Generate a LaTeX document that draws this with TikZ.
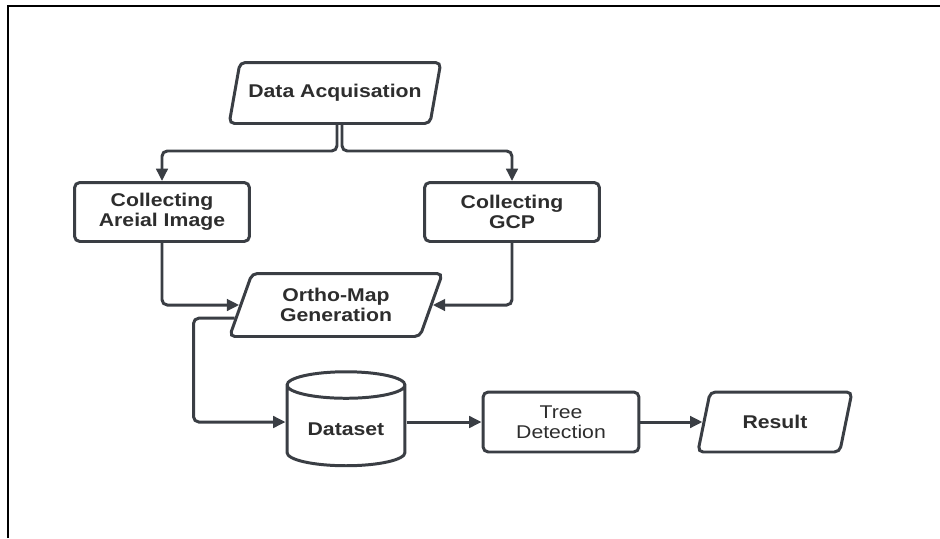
\documentclass[tikz,border=0pt]{standalone}
\usepackage{fontspec}
\setmainfont{Liberation Sans}[FakeStretch=1.15]
\usetikzlibrary{shapes.geometric, arrows.meta, positioning, calc}
\definecolor{flowLine}{RGB}{58, 62, 68}
\definecolor{flowText}{RGB}{45, 45, 45}

\begin{document}
\begin{tikzpicture}[
        x=0.02cm, y=-0.02cm,
        box/.style={rectangle, rounded corners=3pt, draw=flowLine, line width=1.7pt, fill=white, minimum width=3.5cm, minimum height=1.18cm, align=center, font=\fontsize{10.5}{11.5}\selectfont\bfseries, text=flowText},
        io/.style={trapezium, trapezium left angle=70, trapezium right angle=110, trapezium stretches=true, rounded corners=3pt, draw=flowLine, line width=1.7pt, fill=white, align=center, font=\fontsize{10.5}{11.5}\selectfont\bfseries, text=flowText},
        store/.style={cylinder, shape border rotate=90, aspect=0.3, draw=flowLine, line width=1.7pt, fill=white, minimum width=2.36cm, minimum height=1.88cm, font=\fontsize{10.5}{11.5}\selectfont\bfseries, text=flowText},
        arrow/.style={-{Triangle[length=7pt, width=6.5pt]}, line width=1.7pt, flowLine, rounded corners=3pt},
        edgeline/.style={line width=1.3pt, black}
    ]
        \useasboundingbox (0,0) rectangle (940,538);
        \draw[edgeline] (8,538) -- (8,6) -- (940,6);

        % Upper part
        \node[io, minimum width=4.24cm, minimum height=1.22cm] (acq) at (335,93) {Data Acquisation};
        \node[box] (aerial) at (162,212) {Collecting\\Areial Image};
        \node[box] (gcp) at (512,212) {Collecting\\GCP};
        \node[io, minimum width=4.26cm, minimum height=1.26cm] (ortho) at (336,305) {Ortho-Map\\Generation};

        % Lower row
        \node[store] (data) at (346,429) {Dataset};
        \node[box, font=\fontsize{10.5}{11.5}\selectfont, minimum width=3.12cm, minimum height=1.2cm] (tree) at (561,422) {Tree\\Detection};
        \node[io, trapezium left angle=74, trapezium right angle=106, minimum width=3.1cm, minimum height=1.2cm, right=1.24cm of tree] (result) {Result};

        % Arrows
        \draw[arrow] ([xshift=0.04cm]acq.center |- acq.south) -- ++(0,26) -| (aerial.north);
        \draw[arrow] ([xshift=0.14cm]acq.center |- acq.south) -- ++(0,26) -| (gcp.north);
        \draw[arrow] (aerial.south) |- (ortho.west);
        \draw[arrow] (gcp.south) |- (ortho.east);
        \draw[arrow] ($(ortho.bottom left corner)!0.3!(ortho.top left corner)$) -- ++(-41,0) |- (data.west |- tree.west);
        \draw[arrow] (data.east |- tree.west) -- (tree.west);
        \draw[arrow] (tree.east) -- (result.west);
    \end{tikzpicture}
\end{document}
